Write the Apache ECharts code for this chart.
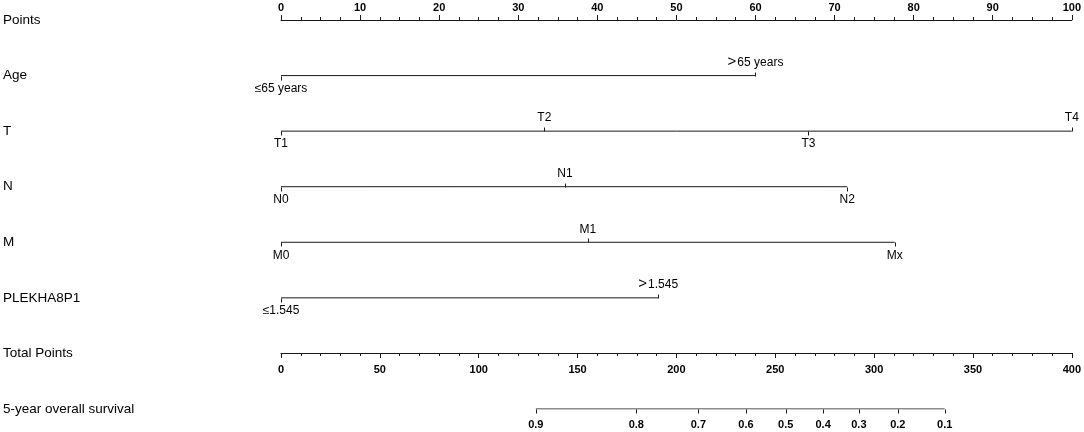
<!DOCTYPE html>
<html>
<head>
<meta charset="utf-8">
<script src="https://cdn.jsdelivr.net/npm/echarts@6/dist/echarts.min.js"></script>
<style>html,body{margin:0;padding:0;background:#fff;}#c{width:1084px;height:432px;}</style>
</head>
<body>
<div id="c"></div>
<script>
const rowNames = ['Points','Age','T','N','M','PLEKHA8P1','Total Points','5-year overall survival'];
const ageLabels = ['≤65 years','＞65 years'];
const agePoints = [0, 60];
const tLabels = ['T1','T2','T3','T4'];
const tPoints = [0, 33.3, 66.7, 100];
const nLabels = ['N0','N1','N2'];
const nPoints = [0, 35.9, 71.6];
const mLabels = ['M0','M1','Mx'];
const mPoints = [0, 38.8, 77.6];
const plekhaLabels = ['≤1.545','＞1.545'];
const plekhaPoints = [0, 47.7];
const survivalLabels = ['0.9','0.8','0.7','0.6','0.5','0.4','0.3','0.2','0.1'];
const survivalTotalPoints = [128.9, 179.7, 211.1, 235.2, 255.3, 274.2, 292.3, 312.0, 335.7];

const LINE = '#1a1a1a';
const TXT = '#000';
const SANS = 'Liberation Sans, Arial, sans-serif';
const NARROW = '"Liberation Sans Narrow", "Arial Narrow", Liberation Sans, Arial, sans-serif';

function rowSeries(rowIdx, labels, values, xAxisIndex, opts) {
  const data = labels.map((l, i) => [values[i], rowIdx, l, i]);
  const minV = Math.min.apply(null, values), maxV = Math.max.apply(null, values);
  return [
    {
      type: 'line', xAxisIndex: xAxisIndex, yAxisIndex: 0, silent: true,
      data: [[minV, rowIdx], [maxV, rowIdx]], symbol: 'none',
      lineStyle: { color: LINE, width: 1 }, animation: false
    },
    {
      type: 'custom', xAxisIndex: xAxisIndex, yAxisIndex: 0, silent: true, animation: false,
      data: data,
      renderItem: function (params, api) {
        const p = api.coord([api.value(0), api.value(1)]);
        const idx = api.value(3);
        const above = opts.allBelow ? false : (idx % 2 === 1);
        const dir = above ? -1 : 1;
        const x = Math.round(p[0]) + 0.5;
        const y = Math.round(p[1]) + 0.5;
        const raw = labels[idx];
        const txt = raw.indexOf('＞') === 0 ? '{g|>}' + raw.slice(1) : raw;
        return {
          type: 'group',
          children: [
            { type: 'line', shape: { x1: x, y1: y, x2: x, y2: y + dir * opts.tick },
              style: { stroke: LINE, lineWidth: 1 } },
            { type: 'text', style: {
                text: txt, x: p[0], y: p[1] + dir * opts.off,
                align: 'center', verticalAlign: 'middle',
                fontSize: opts.fontSize, fontFamily: opts.font, fontWeight: opts.weight || 'normal',
                fill: TXT,
                rich: { g: { fontSize: 15, fontFamily: SANS, fill: TXT, padding: [0, 1, 2, 0] } } } }
          ]
        };
      }
    }
  ];
}

const chart = echarts.init(document.getElementById('c'), null, { renderer: 'canvas' });
const varOpts = { tick: 4, off: 13, fontSize: 12, font: SANS };
const series = [].concat(
  rowSeries(1, ageLabels, agePoints, 0, varOpts),
  rowSeries(2, tLabels, tPoints, 0, varOpts),
  rowSeries(3, nLabels, nPoints, 0, varOpts),
  rowSeries(4, mLabels, mPoints, 0, varOpts),
  rowSeries(5, plekhaLabels, plekhaPoints, 0, varOpts),
  rowSeries(7, survivalLabels, survivalTotalPoints, 1,
    { tick: 4, off: 16, fontSize: 11, font: NARROW, weight: 'bold', allBelow: true })
);

chart.setOption({
  animation: false,
  backgroundColor: '#fff',
  grid: { left: 280, right: 10, top: 20, height: 389, containLabel: false },
  xAxis: [
    {
      type: 'value', position: 'top', min: 0, max: 100, interval: 10,
      axisLine: { show: true, lineStyle: { color: LINE, width: 1 } },
      axisTick: { show: true, length: 5, lineStyle: { color: LINE } },
      minorTick: { show: true, splitNumber: 4, length: 3, lineStyle: { color: LINE } },
      axisLabel: { fontSize: 11, fontFamily: NARROW, fontWeight: 'bold', color: TXT, margin: 7 },
      splitLine: { show: false }, minorSplitLine: { show: false }
    },
    {
      type: 'value', position: 'bottom', offset: -56, min: 0, max: 400, interval: 50,
      axisLine: { show: true, onZero: false, lineStyle: { color: LINE, width: 1 } },
      axisTick: { show: true, length: 5, lineStyle: { color: LINE } },
      minorTick: { show: true, splitNumber: 5, length: 3, lineStyle: { color: LINE } },
      axisLabel: { fontSize: 11, fontFamily: NARROW, fontWeight: 'bold', color: TXT, margin: 11 },
      splitLine: { show: false }, minorSplitLine: { show: false }
    }
  ],
  yAxis: [{
    type: 'value', inverse: true, min: 0, max: 7, interval: 1,
    axisLine: { show: false }, axisTick: { show: false }, splitLine: { show: false },
    axisLabel: {
      show: true, align: 'left', margin: 278, fontSize: 13.5, fontFamily: SANS, color: TXT,
      formatter: function (v) { return rowNames[v] || ''; }
    }
  }],
  series: series
});
</script>
</body>
</html>
